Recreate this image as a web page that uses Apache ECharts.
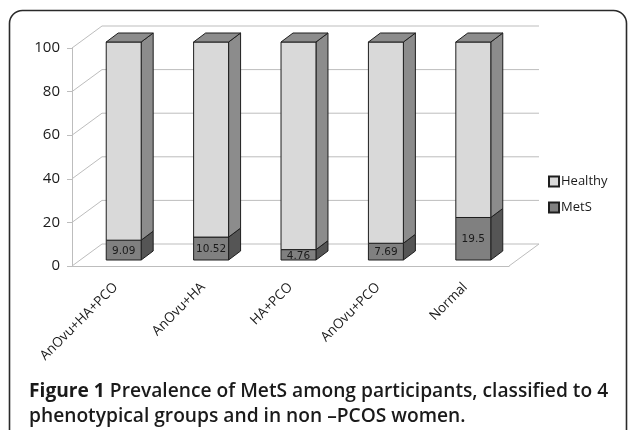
<!DOCTYPE html>
<html>
<head>
<meta charset="utf-8">
<script src="https://cdn.jsdelivr.net/npm/echarts@6/dist/echarts.min.js"></script>
<style>
html,body{margin:0;padding:0;background:#fff;}
#c{width:629px;height:430px;}
</style>
</head>
<body>
<div id="c"></div>
<script>
const categories = ['AnOvu+HA+PCO', 'AnOvu+HA', 'HA+PCO', 'AnOvu+PCO', 'Normal'];
const metS = [9.09, 10.52, 4.76, 7.69, 19.5];
const healthy = [90.91, 89.48, 95.24, 92.31, 80.5];
const yTicks = [0, 20, 40, 60, 80, 100];
const seriesNames = ['Healthy', 'MetS'];

const WALL_DX = 30, WALL_DY = -22;   // depth of the back wall
const BAR_DX = 8, BAR_DY = -6;       // bar front plane offset
const SIDE_DX = 12, SIDE_DY = -9;    // bar depth
const EDGE = '#1e1e1e';
const GRIDC = '#bdbdbd';

const chart = echarts.init(document.getElementById('c'), null, {renderer: 'canvas'});

function wallItem(params, api) {
  const cs = params.coordSys;
  const v = api.value(1);
  const y = api.coord([0, v])[1];
  const left = cs.x, right = cs.x + cs.width;
  const children = [{
    type: 'polyline',
    shape: {points: [[left, y], [left + WALL_DX, y + WALL_DY], [right + WALL_DX, y + WALL_DY]]},
    style: {stroke: GRIDC, lineWidth: 1, fill: null},
    silent: true
  }];
  if (v === 0) {
    children.push({
      type: 'line',
      shape: {x1: right, y1: y, x2: right + WALL_DX, y2: y + WALL_DY},
      style: {stroke: GRIDC, lineWidth: 1},
      silent: true
    });
  }
  return {type: 'group', children: children};
}

function boxItem(colors, withTop, withLabel) {
  return function (params, api) {
    const i = api.value(0);
    const val = api.value(1);
    const base = api.value(2);
    const pb = api.coord([i, base]);
    const pt = api.coord([i, base + val]);
    const bw = api.size([1, 0])[0] * 0.4;
    const cx = pb[0] + BAR_DX;
    const xl = cx - bw / 2, xr = cx + bw / 2;
    const yb = pb[1] + BAR_DY, yt = pt[1] + BAR_DY;
    const children = [
      {
        type: 'polygon',
        shape: {points: [[xr, yb], [xr, yt], [xr + SIDE_DX, yt + SIDE_DY], [xr + SIDE_DX, yb + SIDE_DY]]},
        style: {fill: colors.side, stroke: EDGE, lineWidth: 1}
      },
      {
        type: 'rect',
        shape: {x: xl, y: yt, width: bw, height: yb - yt},
        style: {fill: colors.front, stroke: EDGE, lineWidth: 1}
      }
    ];
    if (withTop) {
      children.push({
        type: 'polygon',
        shape: {points: [[xl, yt], [xr, yt], [xr + SIDE_DX, yt + SIDE_DY], [xl + SIDE_DX, yt + SIDE_DY]]},
        style: {fill: colors.top, stroke: EDGE, lineWidth: 1}
      });
    }
    if (withLabel) {
      children.push({
        type: 'text',
        style: {
          text: String(val),
          x: cx, y: (yt + yb) / 2 + 1,
          align: 'center', verticalAlign: 'middle',
          font: '10.5px "DejaVu Sans"', fill: '#1a1a1a'
        }
      });
    }
    return {type: 'group', children: children};
  };
}

const option = {
  animation: false,
  backgroundColor: '#fff',
  title: {
    text: '{b|Figure 1} {r|Prevalence of MetS among participants, classified to 4}\n{r|phenotypical groups and in non \u2013PCOS women.}',
    left: 24, top: 374,
    textStyle: {
      rich: {
        b: {fontFamily: 'Open Sans', fontWeight: 700, fontSize: 19.2, color: '#1a1a1a', lineHeight: 25},
        r: {fontFamily: 'Open Sans', fontWeight: 600, fontSize: 19.2, color: '#1a1a1a', lineHeight: 25}
      }
    }
  },
  legend: {
    orient: 'vertical',
    left: 548, top: 175,
    itemWidth: 10, itemHeight: 10, itemGap: 13,
    icon: 'rect',
    padding: 0,
    data: seriesNames,
    textStyle: {fontFamily: 'Open Sans', fontSize: 13, color: '#1a1a1a', padding: [0, 0, 0, -3]}
  },
  grid: {left: 72, right: 120, top: 48, bottom: 164},
  xAxis: {
    type: 'category',
    data: categories,
    axisLine: {lineStyle: {color: GRIDC}},
    axisTick: {lineStyle: {color: GRIDC}, length: 5},
    axisLabel: {rotate: 45, margin: 19, fontFamily: 'Open Sans', fontSize: 13.5, color: '#1a1a1a'}
  },
  yAxis: {
    type: 'value',
    min: 0, max: 100, interval: 20,
    axisLine: {show: true, lineStyle: {color: GRIDC}},
    axisTick: {show: true, length: 5, lineStyle: {color: GRIDC}},
    splitLine: {show: false},
    axisLabel: {margin: 12, fontFamily: 'Open Sans', fontSize: 15, color: '#1a1a1a'}
  },
  series: [
    {
      type: 'custom',
      name: 'wall',
      renderItem: wallItem,
      data: yTicks.map(function (v) { return [0, v]; }),
      z: 1, silent: true
    },
    {
      type: 'custom',
      name: 'MetS',
      renderItem: boxItem({front: '#808080', side: '#555555', top: '#666666'}, false, true),
      itemStyle: {color: '#808080', borderColor: EDGE, borderWidth: 1},
      data: metS.map(function (v, i) { return [i, v, 0]; }),
      encode: {x: 0, y: 1},
      z: 3
    },
    {
      type: 'custom',
      name: 'Healthy',
      renderItem: boxItem({front: '#d9d9d9', side: '#8c8c8c', top: '#8c8c8c'}, true, false),
      itemStyle: {color: '#d9d9d9', borderColor: EDGE, borderWidth: 1},
      data: healthy.map(function (v, i) { return [i, v, metS[i]]; }),
      encode: {x: 0, y: 1},
      z: 4
    }
  ],
  graphic: [{
    type: 'rect',
    shape: {x: 9.5, y: 10.5, width: 617, height: 470, r: 13},
    style: {fill: null, stroke: '#2a2a2a', lineWidth: 1.6},
    silent: true, z: 10
  }]
};
chart.setOption(option);
</script>
</body>
</html>
